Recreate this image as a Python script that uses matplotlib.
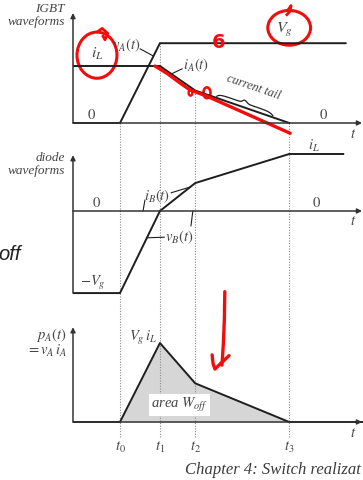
import numpy as np
import matplotlib
matplotlib.use("Agg")
import matplotlib.pyplot as plt
from matplotlib.patches import Ellipse

plt.rcParams['mathtext.fontset'] = 'stix'
plt.rcParams['font.family'] = 'Liberation Serif'

# switching instants (normalised time)
t_marks = [1.0, 1.85, 2.6, 4.6]
t_names = ['$t_0$', '$t_1$', '$t_2$', '$t_3$']
t_end = 6.15

# IGBT waveforms (iL = 1)
Vg = 1.40
vA_t = [0, 1.0, 1.85, 5.8]
vA_v = [0, 0, Vg, Vg]
iA_t = [0, 1.85, 2.6, 4.6]
iA_v = [1.0, 1.0, 0.57, 0.0]

# diode waveforms
vB_t = [0, 1.0, 1.85]
vB_v = [-1.44, -1.44, 0.0]
iB_t = [1.85, 2.6, 4.6, 5.75]
iB_v = [0.0, 0.49, 1.0, 1.0]

# switching power
p_t = [0, 1.0, 1.85, 2.6, 4.6, t_end]
p_v = [0, 0, 1.0, 0.49, 0, 0]

# hand-drawn ink
ink_line_t = [1.745, 2.02, 2.28, 2.49, 2.85, 4.62]
ink_line_v = [1.0, 0.86, 0.70, 0.58, 0.47, -0.18]
ink_arrow_t = [3.23, 3.22, 3.20, 3.17]
ink_arrow_v = [1.65, 1.30, 1.00, 0.72]
ink_barb_t = [2.96, 2.98, 3.02, 3.14, 3.32]
ink_barb_v = [0.85, 0.74, 0.67, 0.74, 0.84]

W, H = 363, 480
LINE = '#1e1e1e'
AX = '#333333'
TXT = '#444444'
DOT = '#8a8a8a'
RED = '#f20d0d'

fig = plt.figure(figsize=(W / 100, H / 100), dpi=100)
fig.patch.set_facecolor('white')
x0 = 73 / W


def panel(top_px, bot_px, ylo, yhi):
    ax = fig.add_axes([x0, 1 - bot_px / H, 1 - x0, (bot_px - top_px) / H])
    ax.set_xlim(0, (W - 73) / 47)
    ax.set_ylim(ylo, yhi)
    ax.axis('off')
    return ax


def axis_arrows(ax, y_bottom, y_top):
    ax.annotate('', xy=(t_end, 0), xytext=(0, 0),
                arrowprops=dict(arrowstyle='-|>', color=AX, lw=1.1,
                                mutation_scale=7, shrinkA=0, shrinkB=0))
    ax.annotate('', xy=(0, y_top), xytext=(0, y_bottom),
                arrowprops=dict(arrowstyle='-|>', color=AX, lw=1.1,
                                mutation_scale=7, shrinkA=0, shrinkB=0))


def label(ax, x, y, s, size=10.5, **kw):
    kw.setdefault('ha', 'center')
    kw.setdefault('va', 'center')
    ax.text(x, y, s, fontsize=size, color=TXT, style='italic', **kw)


dot_kw = dict(color=DOT, lw=0.8, linestyle=(0, (1, 1.4)), zorder=1)

# ---- IGBT waveforms ----
ax1 = panel(0, 140, (123 - 140) / 57, 123 / 57)
ylo1 = ax1.get_ylim()[0]
tops = [0, Vg, 0.57, 0]
for t, top in zip(t_marks, tops):
    ax1.plot([t, t], [ylo1, top], **dot_kw)
axis_arrows(ax1, 0, 1.93)
ax1.plot(vA_t, vA_v, color=LINE, lw=1.4, solid_joinstyle='miter')
ax1.plot(iA_t, iA_v, color=LINE, lw=1.4)

label(ax1, 0.51, 1.21, '$i_L$', 11.5)
label(ax1, 1.43, 1.37, '$v_A(t)$', ha='right')
ax1.plot([1.43, 1.71], [1.30, 1.175], color=LINE, lw=0.8)
label(ax1, 2.34, 1.02, '$i_A(t)$', ha='left')
ax1.plot([2.32, 2.09], [0.95, 0.86], color=LINE, lw=0.8)
label(ax1, 4.51, 1.63, '$V_g$', 11.5)
label(ax1, 3.85, 0.62, 'current tail', 9, rotation=-19)
label(ax1, 0.40, 0.14, '$0$')
label(ax1, 5.34, 0.14, '$0$')
label(ax1, 5.96, -0.21, '$t$')

# brace under the tail label
u = np.linspace(0, 1, 80)
bx = 3.06 + u * (4.25 - 3.06)
base = np.interp(bx, [2.6, 4.6], [0.57, 0.0]) + 0.08
hook = -0.05 * (np.exp(-u / 0.05) + np.exp(-(1 - u) / 0.05))
tip = 0.05 * np.exp(-((u - 0.5) / 0.05) ** 2)
ax1.plot(bx, base + hook + tip, color=LINE, lw=0.9)

# red ink on the IGBT panel
ax1.add_patch(Ellipse((0.51, 1.19), 0.85, 0.81, fill=False, ec=RED, lw=2.2, clip_on=False))
ax1.plot([0.52, 0.62, 0.74, 0.68, 0.64], [1.60, 1.66, 1.57, 1.46, 1.52],
         color=RED, lw=2.0, clip_on=False)
ax1.add_patch(Ellipse((4.60, 1.67), 0.91, 0.61, fill=False, ec=RED, lw=2.2, clip_on=False))
ax1.plot([4.55, 4.62, 4.64, 4.58], [1.90, 1.96, 2.06, 1.99], color=RED, lw=2.0, clip_on=False)
ax1.text(3.09, 1.42, '6', color=RED, fontsize=14, fontweight='bold',
         family='DejaVu Sans', ha='center', va='center')
ax1.plot(ink_line_t, ink_line_v, color=RED, lw=2.4, solid_capstyle='round')
ax1.add_patch(Ellipse((2.85, 0.53), 0.15, 0.19, fill=False, ec=RED, lw=1.9))
ax1.add_patch(Ellipse((2.50, 0.53), 0.08, 0.10, fill=False, ec=RED, lw=1.7))

fig.text(65 / W, 1 - 8.5 / H, 'IGBT', ha='right', va='center', fontsize=9.5,
         style='italic', color=TXT)
fig.text(65 / W, 1 - 22 / H, 'waveforms', ha='right', va='center', fontsize=9.5,
         style='italic', color=TXT)

# ---- diode waveforms ----
ax2 = panel(140, 305, (211 - 305) / 57, (211 - 140) / 57)
ylo2, yhi2 = ax2.get_ylim()
for t in t_marks:
    ax2.plot([t, t], [ylo2, yhi2], **dot_kw)
axis_arrows(ax2, vB_v[0], 0.98)
ax2.plot(vB_t, vB_v, color=LINE, lw=1.4)
ax2.plot(iB_t, iB_v, color=LINE, lw=1.4)

label(ax2, 0.51, 0.14, '$0$')
label(ax2, 5.19, 0.14, '$0$')
label(ax2, 2.06, 0.26, '$i_B(t)$', ha='right')
ax2.plot([2.09, 2.49], [0.32, 0.42], color=LINE, lw=0.8)
ax2.plot([1.53, 1.49], [0.19, 0.0], color=LINE, lw=0.8)
ax2.plot([2.55, 2.51], [0.0, -0.26], color=LINE, lw=0.8)
label(ax2, 1.96, -0.46, '$v_B(t)$', ha='left')
ax2.plot([1.94, 1.57], [-0.46, -0.47], color=LINE, lw=0.8)
label(ax2, 0.43, -1.26, '$-V_g$')
label(ax2, 5.13, 1.14, '$i_L$')
label(ax2, 5.96, -0.19, '$t$')
ax2.text(-1.10, -0.77, 'off', ha='right', va='center', fontsize=14.5,
         style='italic', family='Liberation Sans', color='#222222')

fig.text(65 / W, 1 - 158 / H, 'diode', ha='right', va='center', fontsize=9.5,
         style='italic', color=TXT)
fig.text(65 / W, 1 - 171 / H, 'waveforms', ha='right', va='center', fontsize=9.5,
         style='italic', color=TXT)

# ---- switching power ----
ax3 = panel(305, 480, (422 - 480) / 79, (422 - 305) / 79)
yhi3 = ax3.get_ylim()[1]
for t in t_marks:
    ax3.plot([t, t], [-0.19, yhi3], **dot_kw)
ax3.fill_between(p_t, p_v, 0, color='#d6d6d6', lw=0, zorder=0)
axis_arrows(ax3, 0, 1.20)
ax3.plot(p_t, p_v, color=LINE, lw=1.4)

label(ax3, 1.79, 1.06, '$V_g\\, i_L$', ha='right')
ax3.text(2.26, 0.215, 'area $W_{off}$', fontsize=10.5, color=TXT, style='italic',
         ha='center', va='center',
         bbox=dict(boxstyle='square,pad=0.15', fc='white', ec='none'))
for t, name in zip(t_marks, t_names):
    label(ax3, t, -0.32, name)
label(ax3, 5.96, -0.14, '$t$')

fig.text(67 / W, 1 - 335 / H, '$p_A(t)$', ha='right', va='center', fontsize=10.5,
         color=TXT)
fig.text(67 / W, 1 - 351 / H, '$= v_A\\, i_A$', ha='right', va='center', fontsize=10.5,
         color=TXT)

# red arrow
ax3.plot(ink_arrow_t, ink_arrow_v, color=RED, lw=2.4, clip_on=False,
         solid_capstyle='round')
ax3.plot(ink_barb_t, ink_barb_v, color=RED, lw=2.4, clip_on=False,
         solid_capstyle='round')

fig.text(185 / W, 1 - 470 / H, 'Chapter 4: Switch realizat', ha='left',
         va='center', fontsize=12, style='italic', color='#3a3a3a')

fig.savefig('out.png', dpi=100)
